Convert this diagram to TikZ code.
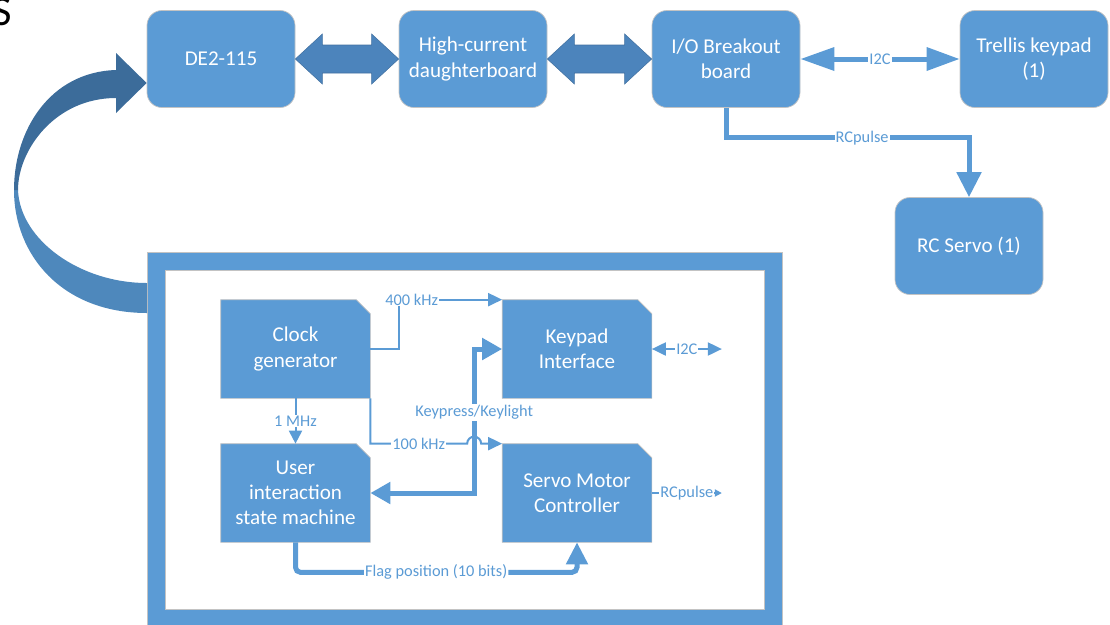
\documentclass[tikz,border=0pt]{standalone}
\usepackage{fontspec}
\setmainfont{Carlito}
\usetikzlibrary{arrows.meta,calc,backgrounds}

\definecolor{boxblue}{RGB}{91,155,213}
\definecolor{boxedge}{RGB}{195,195,195}
\definecolor{fatblue}{RGB}{76,132,188}
\definecolor{curvetop}{RGB}{60,108,154}
\definecolor{curvebot}{RGB}{78,136,188}

\tikzset{
  topbox/.style={rectangle, rounded corners=3mm, fill=boxblue, draw=boxedge, line width=0.4pt,
    minimum width=29.6mm, minimum height=19.4mm, text=white, align=center,
    font=\fontsize{12}{14.3}\selectfont},
  blockbox/.style={rectangle, minimum width=29.8mm, minimum height=19.6mm, inner sep=0pt,
    text=white, align=center, font=\fontsize{12}{14.3}\selectfont},
  fatline/.style={draw=boxblue, line width=1mm},
  thinline/.style={draw=boxblue, line width=0.4mm},
  lbl/.style={fill=white, text=boxblue, inner sep=0.6pt, font=\fontsize{9.3}{11}\selectfont},
  fatarrow/.style={fill=fatblue, draw=fatblue!85!black, line width=0.3pt},
}

\begin{document}
\begin{tikzpicture}[x=0.2mm,y=0.2mm]

      \useasboundingbox (0,0) rectangle (1110,-624);
      \clip (0,0) rectangle (1110,-624);

      \node[anchor=base east, inner sep=0pt, font=\fontsize{24}{24}\selectfont] (title) at (12,-25) {S};

      % top row: boards
      \node[topbox] (de) at (221,-59) {DE2-115};
      \node[topbox] (hc) at (473,-59) {High-current\\daughterboard};
      \node[topbox] (io) at (726,-59) {I/O Breakout\\board};
      \node[topbox] (tk) at (1034,-59) {Trellis keypad\\(1)};
      \node[topbox] (rcs) at (969,-246) {RC Servo (1)};

      % fat double arrows between the boards
      \foreach \a/\b in {de/hc,hc/io}
        \filldraw[fatarrow] (\a.east) -- ++(27,25) -- ++(0,-11) -- ($(\b.west)+(-27,14)$)
          -- ++(0,11) -- (\b.west) -- ++(-27,-25) -- ++(0,11) -- ($(\a.east)+(27,-14)$)
          -- ++(0,-11) -- cycle;

      \draw[fatline, {Triangle[length=6.8mm,width=4.5mm]}-{Triangle[length=6.6mm,width=4.5mm]}]
        (io.east) -- node[lbl]{I2C} (tk.west);
      \draw[fatline, -{Triangle[length=5mm,width=4.8mm]}]
        (io.south) -- ++(0,-30) -| node[lbl,pos=0.28]{RCpulse} (rcs.north);

      % FPGA frame
      \node[draw=boxblue, line width=10.2pt, minimum width=123.4mm, minimum height=71.4mm] (fpga) at (464.5,-439.5) {};
      \draw[boxedge, line width=0.4pt] (fpga.north west) rectangle (fpga.south east);
      \draw[boxedge, line width=0.4pt] ([shift={(3.6mm,-3.6mm)}]fpga.north west) rectangle ([shift={(-3.6mm,3.6mm)}]fpga.south east);

      % curved arrow from the frame back to the DE2-115
      \fill[curvebot] (14,-190) .. controls (14,-255) and (62,-313) .. (147,-313)
        -- (147,-283) .. controls (80,-283) and (20,-240) .. (18,-190) -- cycle;
      \fill[curvetop] ($(de.west)+(0,-24)$) -- (116,-53) -- (116,-70)
        .. controls (50,-72) and (14,-130) .. (14,-190) -- (18,-190)
        .. controls (18,-150) and (55,-98) .. (116,-98) -- (116,-113) -- cycle;

      % blocks inside the FPGA
      \node[blockbox] (clk) at (295.5,-349) {Clock\\generator};
      \node[blockbox] (usr) at (295.5,-493) {User\\interaction\\state machine};
      \node[blockbox] (kpd) at (577,-349) {Keypad\\Interface};
      \node[blockbox] (srv) at (577,-493) {Servo Motor\\Controller};

      \begin{scope}[on background layer]
        \foreach \n in {clk,usr,kpd,srv}
          \filldraw[fill=boxblue, draw=boxedge, line width=0.4pt] (\n.south west) -- (\n.north west)
            -- ([xshift=-2.8mm]\n.north east) -- ([yshift=-2.8mm]\n.north east) -- (\n.south east) -- cycle;
      \end{scope}

      \draw[thinline, -{Triangle[length=2.8mm,width=2.6mm]}]
        (clk.east) -- ++(29,0) |- node[lbl,pos=0.56]{400 kHz} (kpd.north west);
      \draw[thinline, -{Triangle[length=2.6mm,width=2.6mm]}]
        (clk.south) -- node[lbl]{1 MHz} (usr.north);
      \draw[thinline, -{Triangle[length=2.8mm,width=2.6mm]}]
        (clk.south east) |- node[lbl,pos=0.75]{100 kHz} ($(kpd.west |- srv.north west)+(-35,0)$)
        arc[start angle=180, end angle=0, radius=1.4mm] -- (srv.north west);
      \draw[fatline, {Triangle[length=4mm,width=4.2mm]}-{Triangle[length=4mm,width=4.2mm]}]
        (kpd.west) -- ++(-28,0) |- node[lbl,pos=0.22]{Keypress/Keylight} (usr.east);
      \draw[fatline, rounded corners=1mm, -{Triangle[length=4.4mm,width=4.2mm]}]
        (usr.south) -- ++(0,-30) -| node[lbl,pos=0.25]{Flag position (10 bits)} (srv.south);

      \coordinate (i2cend) at ($(kpd.east)+(70,0)$);
      \coordinate (rcend) at ($(srv.east)+(70,0)$);
      \draw[thinline, {Triangle[length=2.8mm,width=2.6mm]}-{Triangle[length=2.8mm,width=2.6mm]}]
        (kpd.east) -- node[lbl]{I2C} (i2cend);
      \draw[thinline, -{Triangle[length=1.4mm,width=1.4mm]}]
        (srv.east) -- node[lbl]{RCpulse} (rcend);

    \end{tikzpicture}
\end{document}
